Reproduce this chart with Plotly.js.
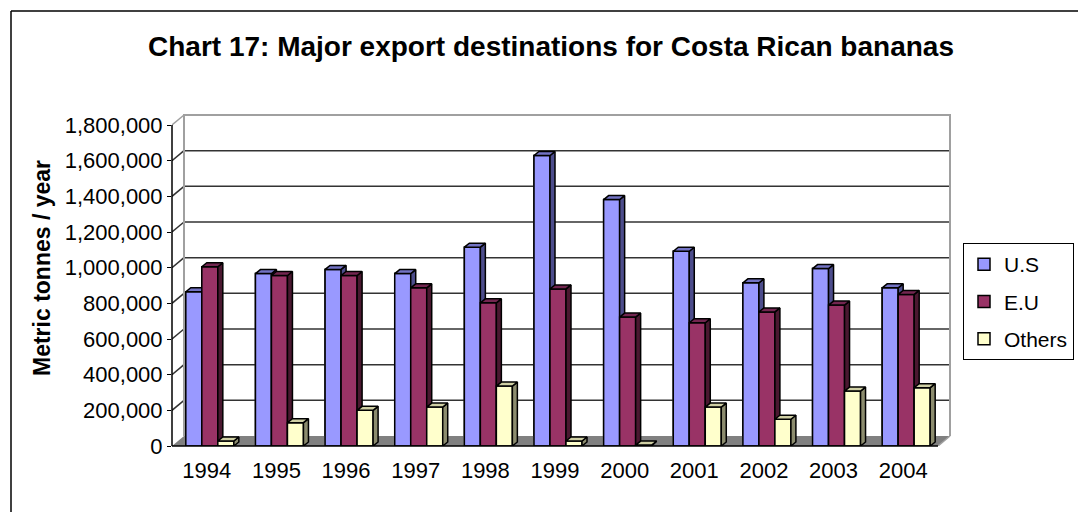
<!DOCTYPE html>
<html>
<head>
<meta charset="utf-8">
<script src="https://cdn.plot.ly/plotly-3.0.1.min.js"></script>
<style>html,body{margin:0;padding:0;background:#fff;}#chart{width:1078px;height:512px;}</style>
</head>
<body>
<div id="chart"></div>
<script>
// ---- data ----
const categories = ['1994','1995','1996','1997','1998','1999','2000','2001','2002','2003','2004'];
const seriesNames = ['U.S', 'E.U', 'Others'];
const usValues    = [865000, 967000, 990000, 967000, 1115000, 1629000, 1382000, 1092000, 915000, 995000, 887000];
const euValues    = [1005000, 956000, 956000, 887000, 803000, 881000, 723000, 691000, 752000, 790000, 850000];
const otherValues = [28000, 131000, 200000, 218000, 336000, 28000, 5000, 218000, 150000, 308000, 327000];
const yTickValues = [0, 200000, 400000, 600000, 800000, 1000000, 1200000, 1400000, 1600000, 1800000];

// ---- styling / geometry ----
const FONT = 'Arial, "Liberation Sans", sans-serif';
const W = 1078, H = 512, L = 172, R = 126, T = 113, B = 66;
const plotW = W - L - R, plotH = H - T - B;
const YMAX = yTickValues[yTickValues.length - 1];
const PXU = 766 / categories.length;      // px per category unit
const VPP = YMAX / 321;                    // value per px
const DX = 12 / PXU, DY = 10 * VPP;        // wall depth
const BW = 16 / PXU, DDX = 5 / PXU, DDY = 4 * VPP; // bar width & depth
const offsets = [-21 / PXU, -5 / PXU, 11 / PXU];
const front = ['#9999ff', '#993366', '#ffffcc'];
const side  = ['#4d4d8c', '#4a1830', '#8c8c6e'];
const top_  = ['#7373c4', '#732650', '#cfcfa4'];
const values = [usValues, euValues, otherValues];
const n = categories.length;
const xLeft = -0.5, xRight = n - 0.5;
const xRange = [xLeft, xLeft + plotW / PXU];
const yRange = [0, plotH * VPP];
const idx = categories.map((c, i) => i);

const traces = [];

// legend/front bars
values.forEach((vals, s) => {
  traces.push({
    type: 'bar', x: idx, y: vals, base: 0, offset: offsets[s], width: BW,
    name: seriesNames[s], legendgroup: 'g' + s,
    marker: {color: front[s], line: {color: '#000', width: 1.5}},
    hoverinfo: 'y+name'
  });
});

function line(xs, ys, color, width) {
  return {type: 'scatter', mode: 'lines', x: xs, y: ys, showlegend: false, hoverinfo: 'skip',
          line: {color: color, width: width}};
}
// floor
traces.push({type: 'scatter', mode: 'lines', fill: 'toself', fillcolor: '#808080',
  x: [xLeft, xRight, xRight + DX, xLeft + DX, xLeft], y: [0, 0, DY, DY, 0],
  line: {width: 0, color: '#808080'}, showlegend: false, hoverinfo: 'skip'});
// back wall gridlines + left wall diagonals
const gx = [], gy = [], dxs = [], dys = [];
yTickValues.slice(1, -1).forEach(v => {
  gx.push(xLeft + DX, xRight + DX, null); gy.push(v + DY, v + DY, null);
  dxs.push(xLeft, xLeft + DX, null); dys.push(v, v + DY, null);
});
traces.push(line(gx, gy, '#333333', 1.5));
traces.push(line(dxs, dys, '#333333', 1.5));
// wall borders (gray)
traces.push(line([xLeft + DX, xLeft + DX, xRight + DX, xRight + DX], [DY, YMAX + DY, YMAX + DY, DY], '#a0a0a0', 2));
traces.push(line([xLeft, xLeft + DX], [YMAX, YMAX + DY], '#a0a0a0', 1.5));
traces.push(line([xRight, xRight + DX], [0, DY], '#a0a0a0', 1.5));

// 3D boxes
values.forEach((vals, s) => {
  const fx = [], fy = [], sx = [], sy = [], tx = [], ty = [];
  vals.forEach((v, i) => {
    const x0 = i + offsets[s], x1 = x0 + BW;
    fx.push(x0, x0, x1, x1, x0, null); fy.push(0, v, v, 0, 0, null);
    sx.push(x1, x1 + DDX, x1 + DDX, x1, x1, null); sy.push(0, DDY, v + DDY, v, 0, null);
    tx.push(x0, x0 + DDX, x1 + DDX, x1, x0, null); ty.push(v, v + DDY, v + DDY, v, v, null);
  });
  [[fx, fy, front[s]], [sx, sy, side[s]], [tx, ty, top_[s]]].forEach(([xs, ys, c]) => {
    traces.push({type: 'scatter', mode: 'lines', fill: 'toself', fillcolor: c, x: xs, y: ys,
      line: {color: '#000', width: 1.5}, showlegend: false, hoverinfo: 'skip'});
  });
});

// frame (pixel -> paper)
const px = p => (p - L) / plotW;
const py = p => (H - B - p) / plotH;

const layout = {
  width: W, height: H,
  margin: {l: L, r: R, t: T, b: B, pad: 0, autoexpand: false},
  paper_bgcolor: '#fff', plot_bgcolor: 'rgba(0,0,0,0)',
  font: {family: FONT, color: '#000', size: 22},
  title: {text: 'Chart 17: Major export destinations for Costa Rican bananas',
          font: {family: FONT, size: 28, weight: 'bold', color: '#000'},
          xref: 'paper', x: px(551), xanchor: 'center', yref: 'container', y: 1 - 46 / H, yanchor: 'middle'},
  barmode: 'overlay',
  showlegend: true,
  legend: {x: px(963), y: py(243), xanchor: 'left', yanchor: 'top', bgcolor: '#fff',
           bordercolor: '#000', borderwidth: 1, font: {size: 21, family: FONT},
           traceorder: 'grouped', tracegroupgap: 7, itemwidth: 30},
  xaxis: {range: xRange, tickmode: 'array', tickvals: idx, ticktext: categories, ticks: '',
          showgrid: false, zeroline: false, showline: false, fixedrange: true,
          ticklabelstandoff: 9, tickfont: {size: 22, family: FONT}},
  xaxis2: {range: xRange, overlaying: 'x', anchor: 'y', side: 'bottom', tickmode: 'array',
           tickvals: idx.concat([n]).map(i => i - 0.5), ticks: 'outside', ticklen: 7, tickwidth: 1,
           tickcolor: '#000', showticklabels: false, showgrid: false, zeroline: false, showline: false},
  yaxis: {range: yRange, tickmode: 'array', tickvals: yTickValues, tickformat: ',d',
          ticks: 'outside', ticklen: 4, tickwidth: 1, tickcolor: '#000',
          showgrid: false, zeroline: false, showline: false,
          tickfont: {size: 22, family: FONT}},
  annotations: [
    {text: '<b>Metric tonnes / year</b>', textangle: -90, showarrow: false,
     xref: 'paper', yref: 'paper', x: px(42), y: py(268), xanchor: 'center', yanchor: 'middle',
     font: {size: 23, family: FONT, color: '#000'}}
  ],
  shapes: [
    {type: 'line', xref: 'paper', yref: 'y', x0: 0, x1: 0, y0: 0, y1: YMAX, line: {color: '#000', width: 1.5}},
    {type: 'line', xref: 'x', yref: 'paper', x0: xLeft, x1: xRight, y0: 0, y1: 0, line: {color: '#000', width: 1.5}},
    {type: 'line', xref: 'paper', yref: 'paper', x0: px(11), x1: px(1090), y0: py(11), y1: py(11), line: {color: '#000', width: 1.5}},
    {type: 'line', xref: 'paper', yref: 'paper', x0: px(11), x1: px(11), y0: py(11), y1: py(530), line: {color: '#000', width: 1.5}}
  ]
};

Plotly.newPlot('chart', traces, layout, {displayModeBar: false, staticPlot: true});
</script>
</body>
</html>
